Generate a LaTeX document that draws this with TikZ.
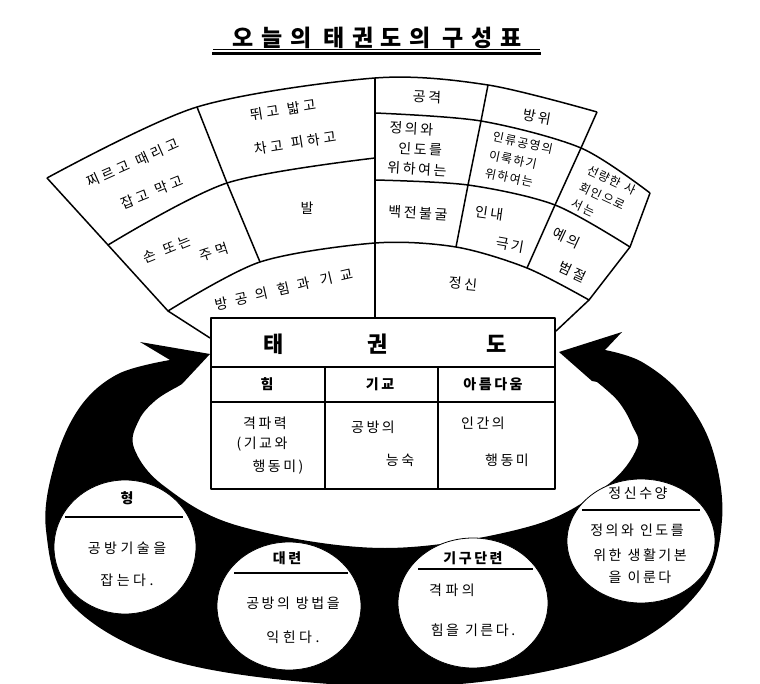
\documentclass[tikz,border=0pt]{standalone}
\usepackage{fontspec}
\newfontfamily\kr{Noto Sans CJK KR}
\newcommand\ktfont{\kr\fontsize{14}{16}\selectfont\addfontfeature{LetterSpace=18}}
\newcommand\kffont{\kr\fontsize{14}{16}\selectfont\addfontfeature{LetterSpace=25}}
\newcommand\ksfont{\kr\fontsize{12}{18.5}\selectfont\addfontfeature{LetterSpace=12}}
\newcommand\kbfont{\kr\bfseries\fontsize{14}{16}\selectfont\addfontfeature{LetterSpace=18}}
\newcommand\ttlfont{\kr\bfseries\fontsize{23}{26}\selectfont\addfontfeature{LetterSpace=33}}
\newcommand\widefont{\kr\fontsize{14}{16}\selectfont\addfontfeature{LetterSpace=55}}
\usetikzlibrary{shapes.geometric}
\begin{document}
\begin{tikzpicture}[x=1pt,y=-1pt,line join=round,
  fanline/.style={line width=1.5pt},
  kt/.style={inner sep=0pt, font=\ktfont, execute at begin node={\spaceskip=6pt\relax}},
  kf/.style={inner sep=0pt, font=\kffont, execute at begin node={\spaceskip=8pt\relax}},
  ks/.style={inner sep=0pt, font=\ksfont, align=left, execute at begin node={\spaceskip=5pt\relax}},
  kb/.style={inner sep=0pt, font=\kbfont, execute at begin node={\spaceskip=6pt\relax}},
  rulel/.style={line width=1.2pt},
  circ/.style={ellipse, fill=white, draw=black, line width=0.8pt, inner sep=0pt},
]
\useasboundingbox (0,0) rectangle (760,684);

% ---------- title
\node[inner sep=0pt, font=\ttlfont, execute at begin node={\spaceskip=12pt\relax}] (title) at (377,38) {오늘의 태권도의 구성표};
\coordinate (u1a) at (213,49.3); \coordinate (u1b) at (540,49.3);
\coordinate (u2a) at (212,54); \coordinate (u2b) at (541,54);
\draw[line width=1.5pt] (u1a) -- (u1b);
\draw[line width=3pt] (u2a) -- (u2b);

% ---------- black ring with two arrows
\fill[black] plot[smooth,tension=0.6] coordinates {(170,360) (118,374) (80,407) (55,462) (46,530) (72,605) (170,660) (330,684) (480,682) (620,650) (700,590) (722,520) (712,448) (682,395) (642,362) (605,350)}
  -- (622,332) -- (559,352) -- (592,381)
  -- plot[smooth,tension=0.6] coordinates {(597,382) (618,401) (632,425) (637,448) (606,486) (531,526) (385,548) (239,526) (164,486) (134,448) (139,420) (156,400) (177,387)}
  -- (182,384) -- (210,354) -- (140,342) -- cycle;

% ---------- fan coordinates
\coordinate (L0) at (47,178);  \coordinate (L1) at (197,107); \coordinate (M0) at (375,78);
\coordinate (R1) at (488,85);  \coordinate (R2) at (597,112);
\coordinate (L3a) at (108,245); \coordinate (L3b) at (227,183); \coordinate (M3) at (375,158);
\coordinate (L5a) at (168,311); \coordinate (L5b) at (260,262); \coordinate (M5) at (375,243);
\coordinate (R5a) at (456,247); \coordinate (R5b) at (527,268); \coordinate (R5c) at (589,300);
\coordinate (M2) at (375,113); \coordinate (R2a) at (481,121); \coordinate (R2b) at (581,148); \coordinate (R2c) at (650,193);
\coordinate (M4) at (375,180); \coordinate (R4a) at (468,185); \coordinate (R4b) at (555,205); \coordinate (R4c) at (630,247);
\coordinate (Lb) at (210,338); \coordinate (Rb) at (556,331); \coordinate (Mt) at (375,317);

\begin{scope}[fanline]
\draw plot[smooth] coordinates {(L0) (L1) (M0) (R1) (R2)};
\draw plot[smooth] coordinates {(L3a) (L3b) (M3)};
\draw plot[smooth] coordinates {(L5a) (L5b) (M5) (R5a) (R5b) (R5c)};
\draw plot[smooth] coordinates {(M2) (R2a) (R2b) (R2c)};
\draw plot[smooth] coordinates {(M4) (R4a) (R4b) (R4c)};
\draw (L0) -- (L3a) -- (L5a) -- (Lb);
\draw (L1) -- (L3b) -- (L5b);
\draw (M0) -- (Mt);
\draw (R1) -- (R2a) -- (R4a) -- (R5a);
\draw (R2) -- (R2b) -- (R4b) -- (R5b);
\draw (R2c) -- (R4c) -- (R5c) -- (Rb);
\end{scope}

% ---------- fan texts (left)
\node[kf, rotate=24] (t1a) at (133,163) {찌르고 때리고};
\node[kf, rotate=22] (t1b) at (152,192) {잡고 막고};
\node[kf, rotate=9] (t2a) at (283,110) {뛰고 밟고};
\node[kf, rotate=9] (t2b) at (295,143) {차고 피하고};
\node[kf, rotate=22] (t3a) at (167,249) {손 또는};
\node[kf, rotate=18] (t3b) at (214,252) {주먹};
\node[kf] (t4) at (307,208) {발};
\node[kt, rotate=13, font=\widefont, execute at begin node={\spaceskip=10pt\relax}] (t5) at (284,289) {방공의 힘과 기교};

% ---------- fan texts (right)
\node[kt, rotate=-2] (a1) at (427,97) {공격};
\node[kt, rotate=-10] (a2) at (537,117) {방위};
\node[kt, rotate=-3, align=left, font=\kr\fontsize{14}{20}\selectfont\addfontfeature{LetterSpace=18}] (b1) at (418,149) {정의와\\\hspace{10pt}인도를\\위하여는};
\node[ks, rotate=-12] (c1) at (519,161) {인류공영의\\이룩하기\\위하여는};
\node[ks, rotate=-25] (d1) at (604,197) {선량한 사\\회인으로\\서는};
\node[kt, rotate=-3] (e1) at (418,213) {백전불굴};
\node[kt, rotate=-8] (e2) at (489,213) {인내};
\node[kt, rotate=-10] (e3) at (510,245) {극기};
\node[kt, rotate=-25] (f1) at (567,238) {예의};
\node[kt, rotate=-25] (f2) at (573,272) {범절};
\node[kt, rotate=-5] (g1) at (463,284) {정신};

% ---------- central table
\coordinate (T1) at (211,318); \coordinate (T2) at (555,489);
\draw[line width=2.5pt, fill=white] (T1) rectangle (T2);
\coordinate (h1) at (211,367); \coordinate (h2) at (555,367);
\coordinate (s1) at (211,402); \coordinate (s2) at (555,402);
\coordinate (v1a) at (325,367); \coordinate (v1b) at (325,489);
\coordinate (v2a) at (438,367); \coordinate (v2b) at (438,489);
\draw[line width=2.2pt] (h1) -- (h2);
\draw[line width=1.5pt] (s1) -- (s2);
\draw[line width=1.5pt] (v1a) -- (v1b);
\draw[line width=1.5pt] (v2a) -- (v2b);
\node[inner sep=0pt, font=\kr\bfseries\fontsize{22}{24}\selectfont] (tkd) at (385,344) {태\hspace{84pt}권\hspace{98pt}도};
\node[kb] (k1) at (267,384) {힘};
\node[kb] (k2) at (380,384) {기교};
\node[kb] (k3) at (493,384) {아름다움};
\node[kt] (p1) at (265,423) {격파력};
\node[kt] (p2) at (262,444) {(기교와};
\node[kt] (p3) at (278,467) {행동미)};
\node[kt] (q1) at (373,427) {공방의};
\node[kt] (q2) at (400,460) {능숙};
\node[kt] (r1) at (483,423) {인간의};
\node[kt] (r2) at (507,460) {행동미};

% ---------- circles
\node[circ, minimum width=142pt, minimum height=134pt] (C1) at (125,547) {};
\node[circ, minimum width=144pt, minimum height=128pt] (C2) at (289,606) {};
\node[circ, minimum width=150pt, minimum height=130pt] (C3) at (473,603) {};
\node[circ, minimum width=148pt, minimum height=124pt] (C4) at (641,541) {};

\node[kb] (C1h) at (127,498) {형};
\draw[rulel] (65,517) -- (183,517);
\node[kf] (C1a) at (127,548) {공방기술을};
\node[kf] (C1b) at (127,580) {잡는다.};

\node[kb] (C2h) at (287,558) {대련};
\draw[rulel] (234,573) -- (348,573);
\node[kt] (C2a) at (293,603) {공방의 방법을};
\node[kf] (C2b) at (293,637) {익힌다.};

\node[kb] (C3h) at (473,558) {기구단련};
\draw[rulel] (418,569) -- (533,569);
\node[kf] (C3a) at (452,590) {격파의};
\node[kt] (C3b) at (473,630) {힘을 기른다.};

\node[kt] (C4h) at (638,493) {정신수양};
\draw[rulel] (582,510) -- (700,510);
\node[kt] (C4a) at (637,530) {정의와 인도를};
\node[kt] (C4b) at (640,555) {위한 생활기본};
\node[kt] (C4c) at (640,577) {을 이룬다};
\end{tikzpicture}
\end{document}
